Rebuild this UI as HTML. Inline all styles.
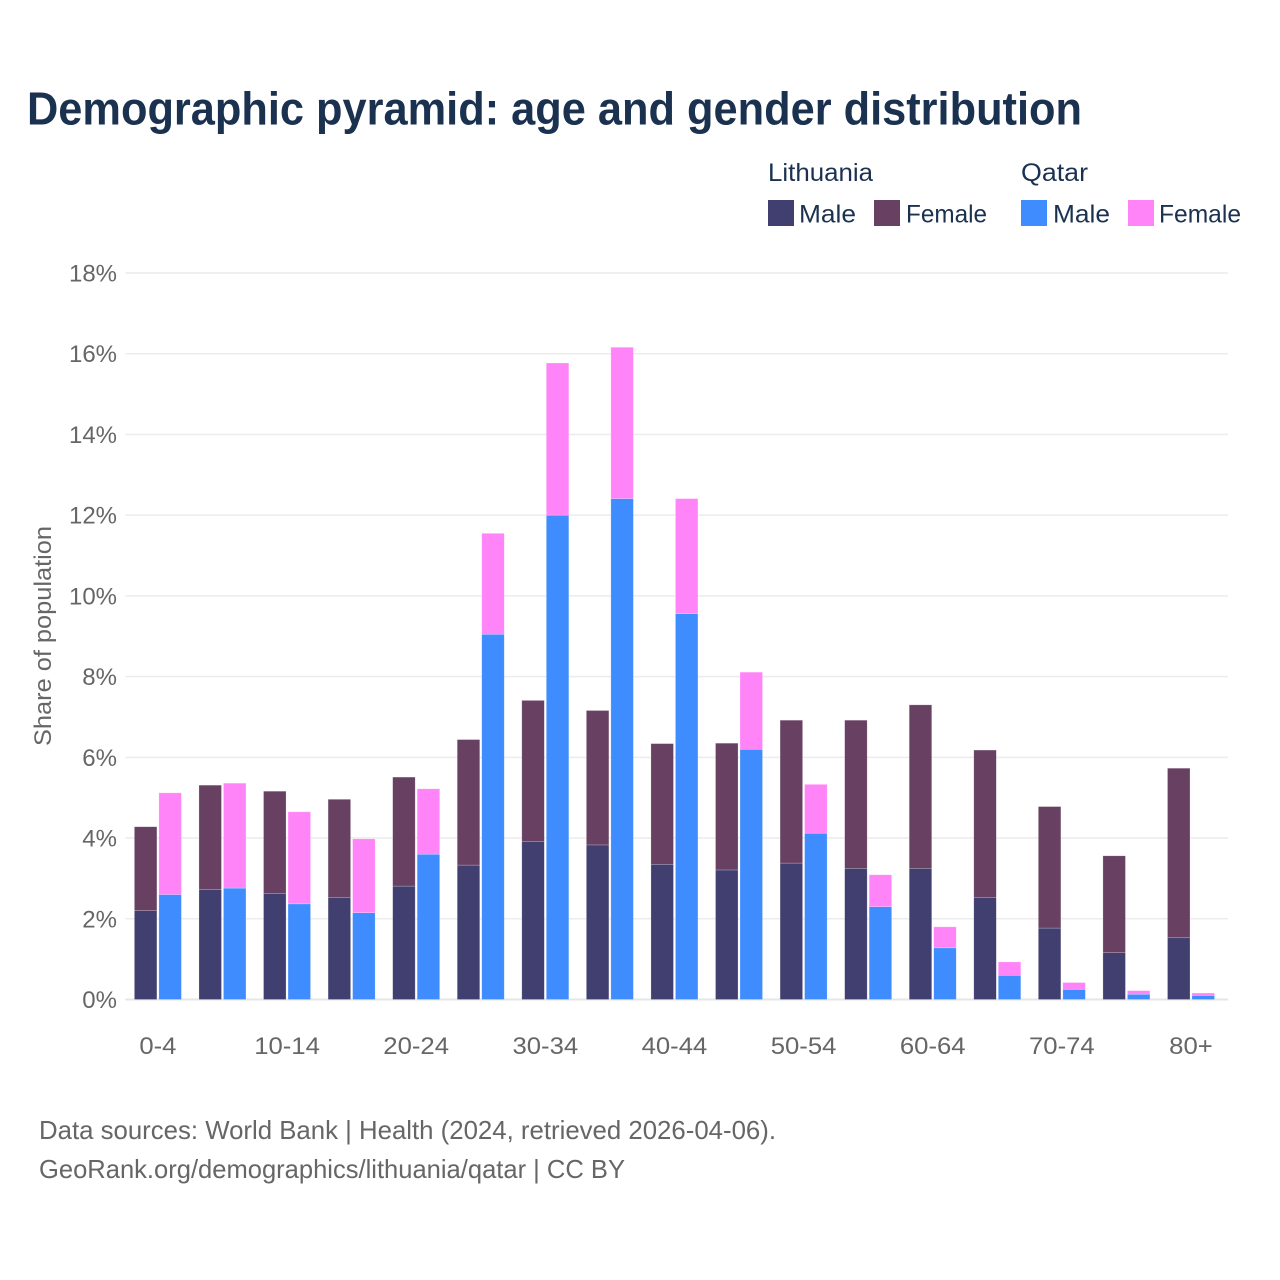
<!DOCTYPE html>
<html lang="en">
<head>
<meta charset="utf-8">
<title>Demographic pyramid: age and gender distribution</title>
<style>
html,body{margin:0;padding:0;background:#fff;width:1280px;height:1280px;overflow:hidden}
svg{display:block}
text{font-family:"Liberation Sans",sans-serif}
</style>
</head>
<body>
<svg id="chart" xmlns="http://www.w3.org/2000/svg" width="1280" height="1280" viewBox="0 0 1280 1280">
  <rect width="1280" height="1280" fill="#ffffff"/>
  <text x="27" y="124.5" font-size="46" font-weight="700" fill="#1a3150" textLength="1055" lengthAdjust="spacingAndGlyphs">Demographic pyramid: age and gender distribution</text>

  <g font-size="25" fill="#1a3150">
    <text x="768" y="181" textLength="105" lengthAdjust="spacingAndGlyphs">Lithuania</text>
    <text x="1021" y="181" textLength="67" lengthAdjust="spacingAndGlyphs">Qatar</text>
    <rect x="768" y="200" width="26" height="26" fill="#413f70"/>
    <text x="799" y="222.5" textLength="57" lengthAdjust="spacingAndGlyphs">Male</text>
    <rect x="874" y="200" width="26" height="26" fill="#674062"/>
    <text x="906" y="222.5" textLength="81" lengthAdjust="spacingAndGlyphs">Female</text>
    <rect x="1021" y="200" width="26" height="26" fill="#3f8cff"/>
    <text x="1053" y="222.5" textLength="57" lengthAdjust="spacingAndGlyphs">Male</text>
    <rect x="1128" y="200" width="26" height="26" fill="#ff84f8"/>
    <text x="1159" y="222.5" textLength="82" lengthAdjust="spacingAndGlyphs">Female</text>
  </g>

  <g id="grid"></g>
  <g id="yticks"></g>
  <g id="bars"></g>
  <g id="xticks"></g>

  <text transform="translate(51,746) rotate(-90)" font-size="24" fill="#666666" textLength="220" lengthAdjust="spacingAndGlyphs">Share of population</text>

  <text x="39" y="1139" font-size="26" fill="#666666" textLength="737" lengthAdjust="spacingAndGlyphs">Data sources: World Bank | Health (2024, retrieved 2026-04-06).</text>
  <text x="39" y="1178" font-size="26" fill="#666666" textLength="586" lengthAdjust="spacingAndGlyphs">GeoRank.org/demographics/lithuania/qatar | CC BY</text>
</svg>
<script>
const categories = ["0-4","5-9","10-14","15-19","20-24","25-29","30-34","35-39","40-44","45-49","50-54","55-59","60-64","65-69","70-74","75-79","80+"];
const xTickLabels = ["0-4","10-14","20-24","30-34","40-44","50-54","60-64","70-74","80+"];
const yTickValues = [0,2,4,6,8,10,12,14,16,18];
const lithuaniaMale = [2.20,2.73,2.63,2.53,2.81,3.33,3.92,3.83,3.35,3.21,3.38,3.25,3.25,2.53,1.77,1.16,1.53];
const lithuaniaFemale = [2.08,2.58,2.53,2.43,2.70,3.11,3.49,3.33,2.99,3.14,3.54,3.67,4.05,3.65,3.01,2.40,4.20];
const qatarMale = [2.60,2.76,2.37,2.15,3.60,9.05,12.00,12.41,9.56,6.20,4.12,2.30,1.28,0.60,0.25,0.13,0.10];
const qatarFemale = [2.52,2.60,2.28,1.83,1.62,2.50,3.77,3.75,2.85,1.91,1.21,0.79,0.52,0.33,0.17,0.09,0.06];

const NS = "http://www.w3.org/2000/svg";
const gridLeft = 125.5, gridRight = 1228, plotBottom = 999.5, plotTop = 273, yMax = 18;
const firstCenter = 157.9, lastCenter = 1191;
const band = (lastCenter - firstCenter) / (categories.length - 1);
const barWidth = 22.5, barGap = 2;

function yScale(v) { return plotBottom - (v / yMax) * (plotBottom - plotTop); }
function xCenter(i) { return firstCenter + band * i; }

function fitText(el, k) {
  el.setAttribute('textLength', (el.getComputedTextLength() * k).toFixed(1));
  el.setAttribute('lengthAdjust', 'spacingAndGlyphs');
}

const gridG = document.getElementById('grid');
const yG = document.getElementById('yticks');
yTickValues.forEach(function (v) {
  const line = document.createElementNS(NS, 'line');
  
  
  line.setAttribute('x1', gridLeft);
  line.setAttribute('x2', gridRight);
  line.setAttribute('y1', yScale(v));
  line.setAttribute('y2', yScale(v));
  line.setAttribute('stroke', v === 0 ? '#e6e6e6' : '#ececec');
  line.setAttribute('stroke-width', v === 0 ? 2 : 1.5);
  gridG.appendChild(line);

  const t = document.createElementNS(NS, 'text');
  
  
  t.setAttribute('x', 117);
  t.setAttribute('y', yScale(v) + 8.5);
  t.setAttribute('text-anchor', 'end');
  t.setAttribute('font-size', 24);
  t.setAttribute('fill', '#666666');
  t.textContent = v + '%';
  yG.appendChild(t);
  fitText(t, 1.0);
});

const barsG = document.getElementById('bars');
function addBar(i, offset, base, value, color, name) {
  const r = document.createElementNS(NS, 'rect');
  
  
  r.setAttribute('x', xCenter(i) + offset);
  r.setAttribute('y', yScale(base + value));
  r.setAttribute('width', barWidth);
  r.setAttribute('height', yScale(base) - yScale(base + value));
  r.setAttribute('fill', color);
  r.setAttribute('stroke', 'rgba(255,255,255,0.35)');
  r.setAttribute('stroke-width', 0.6);
  barsG.appendChild(r);
}
categories.forEach(function (c, i) {
  const leftOffset = -barWidth - barGap / 2;
  const rightOffset = barGap / 2;
  addBar(i, leftOffset, 0, lithuaniaMale[i], '#413f70', 'bar-lithuania-male');
  addBar(i, leftOffset, lithuaniaMale[i], lithuaniaFemale[i], '#674062', 'bar-lithuania-female');
  addBar(i, rightOffset, 0, qatarMale[i], '#3f8cff', 'bar-qatar-male');
  addBar(i, rightOffset, qatarMale[i], qatarFemale[i], '#ff84f8', 'bar-qatar-female');
});

const xG = document.getElementById('xticks');
xTickLabels.forEach(function (label) {
  const t = document.createElementNS(NS, 'text');
  
  
  t.setAttribute('x', xCenter(categories.indexOf(label)));
  t.setAttribute('y', 1054);
  t.setAttribute('text-anchor', 'middle');
  t.setAttribute('font-size', 24);
  t.setAttribute('fill', '#666666');
  t.textContent = label;
  xG.appendChild(t);
  fitText(t, 1.07);
});
</script>
</body>
</html>
